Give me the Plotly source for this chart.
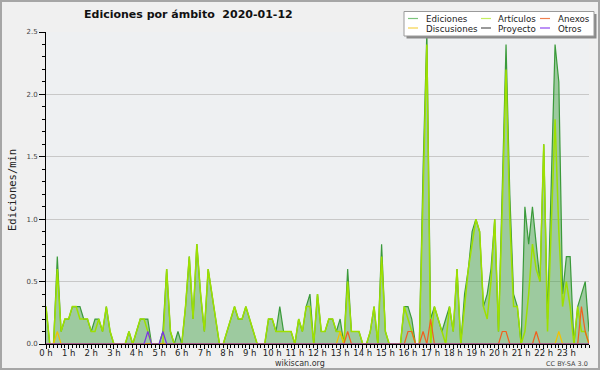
import plotly.graph_objects as go

# ---------------- data (edits per minute, 10-minute buckets, 2020-01-12) -------------
minutes = list(range(0, 1441, 10))          # 00:00 ... 24:00
hour_ticks = [0, 1, 2, 3, 4, 5, 6, 7, 8, 9, 10, 11, 12, 13, 14, 15, 16, 17, 18, 19, 20, 21, 22, 23]
hour_labels = ["0 h", "1 h", "2 h", "3 h", "4 h", "5 h", "6 h", "7 h", "8 h", "9 h", "10 h", "11 h",
               "12 h", "13 h", "14 h", "15 h", "16 h", "17 h", "18 h", "19 h", "20 h", "21 h", "22 h", "23 h"]

ediciones = [
    0.3, 0, 0, 0.7, 0.1, 0.2, 0.2, 0.3, 0.3, 0.3, 0.2, 0.2,
    0.1, 0.2, 0.2, 0.1, 0.3, 0.1, 0, 0, 0, 0, 0.1, 0,
    0.1, 0.2, 0.2, 0.2, 0, 0, 0, 0.1, 0.6, 0.1, 0, 0.1,
    0, 0.3, 0.7, 0.2, 0.8, 0.4, 0.1, 0.6, 0.4, 0.2, 0, 0,
    0.1, 0.2, 0.3, 0.2, 0.2, 0.3, 0.2, 0.1, 0, 0, 0, 0.2,
    0.2, 0.1, 0.3, 0.1, 0.1, 0.1, 0, 0.2, 0.1, 0.3, 0.4, 0,
    0.4, 0.1, 0.1, 0.2, 0.2, 0.1, 0.2, 0, 0.6, 0.1, 0.1, 0.1,
    0, 0, 0.1, 0.3, 0, 0.8, 0.1, 0, 0, 0, 0, 0.3,
    0.3, 0.2, 0, 0, 1.4, 2.5, 0.2, 0.3, 0.2, 0.1, 0.2, 0.3,
    0.1, 0.6, 0, 0.4, 0.6, 0.9, 1.0, 0.9, 0.3, 0.4, 0.6, 1.0,
    0.1, 1.2, 2.4, 1.2, 0.4, 0.3, 0, 1.1, 0.8, 1.1, 0.8, 0.5,
    1.6, 0.2, 1.3, 2.4, 2.1, 0.4, 0.7, 0.7, 0, 0.3, 0.4, 0.5,
    0.1,
]
articulos = [
    0.3, 0, 0, 0.6, 0.1, 0.2, 0.2, 0.3, 0.3, 0.2, 0.2, 0.2,
    0.1, 0.1, 0.2, 0.1, 0.3, 0.1, 0, 0, 0, 0, 0.1, 0,
    0.1, 0.2, 0.2, 0.1, 0, 0, 0, 0, 0.6, 0.1, 0, 0,
    0, 0.3, 0.7, 0.2, 0.8, 0.4, 0.1, 0.6, 0.4, 0.2, 0, 0,
    0.1, 0.2, 0.3, 0.2, 0.2, 0.3, 0.2, 0.1, 0, 0, 0, 0.2,
    0.2, 0.1, 0.1, 0.1, 0.1, 0.1, 0, 0.2, 0.1, 0.3, 0.3, 0,
    0.4, 0.1, 0.1, 0.2, 0.2, 0.1, 0.1, 0, 0.5, 0.1, 0.1, 0.1,
    0, 0, 0.1, 0.3, 0, 0.7, 0.1, 0, 0, 0, 0, 0.3,
    0.2, 0.1, 0, 0, 1.3, 2.4, 0, 0.3, 0.2, 0.1, 0, 0.3,
    0.1, 0.6, 0, 0.3, 0.6, 0.8, 1.0, 0.9, 0.3, 0.2, 0.5, 1.0,
    0.1, 1.1, 2.2, 1.0, 0.3, 0.3, 0, 0.1, 0.4, 0.8, 0.6, 0.5,
    1.6, 0.1, 1.0, 1.8, 0.9, 0.3, 0.5, 0.3, 0, 0.3, 0.1, 0.1,
    0,
]
discusiones = [
    0, 0, 0, 0.1, 0, 0, 0, 0, 0, 0, 0, 0,
    0, 0, 0, 0, 0, 0, 0, 0, 0, 0, 0, 0,
    0, 0, 0, 0, 0, 0, 0, 0, 0, 0, 0, 0,
    0, 0, 0, 0, 0, 0, 0, 0, 0, 0, 0, 0,
    0, 0, 0, 0, 0, 0, 0, 0, 0, 0, 0, 0,
    0, 0, 0, 0, 0, 0, 0, 0, 0, 0, 0, 0,
    0, 0, 0, 0, 0, 0, 0.1, 0, 0, 0, 0, 0,
    0, 0, 0, 0, 0, 0, 0, 0, 0, 0, 0, 0,
    0, 0, 0, 0, 0, 0, 0, 0, 0, 0, 0, 0,
    0, 0, 0, 0, 0, 0, 0, 0, 0, 0, 0, 0,
    0, 0, 0, 0, 0, 0, 0, 0, 0, 0, 0, 0,
    0, 0, 0, 0, 0.1, 0, 0, 0, 0, 0, 0, 0,
    0,
]
anexos = [
    0, 0, 0, 0, 0, 0, 0, 0, 0, 0, 0, 0,
    0, 0, 0, 0, 0, 0, 0, 0, 0, 0, 0, 0,
    0, 0, 0, 0, 0, 0, 0, 0, 0, 0, 0, 0,
    0, 0, 0, 0, 0, 0, 0, 0, 0, 0, 0, 0,
    0, 0, 0, 0, 0, 0, 0, 0, 0, 0, 0, 0,
    0, 0, 0, 0, 0, 0, 0, 0, 0, 0, 0, 0,
    0, 0, 0, 0, 0, 0, 0, 0, 0.1, 0, 0, 0,
    0, 0, 0, 0, 0, 0, 0, 0, 0, 0, 0, 0,
    0.1, 0.1, 0, 0, 0.1, 0, 0.2, 0, 0, 0, 0, 0,
    0, 0, 0, 0, 0, 0, 0, 0, 0, 0, 0, 0,
    0, 0.1, 0.1, 0, 0, 0, 0, 0, 0, 0, 0.1, 0,
    0, 0, 0, 0, 0, 0, 0, 0, 0, 0, 0.3, 0.1,
    0,
]
proyecto = [
    0, 0, 0, 0, 0, 0, 0, 0, 0, 0, 0, 0,
    0, 0, 0, 0, 0, 0, 0, 0, 0, 0, 0, 0,
    0, 0, 0, 0, 0, 0, 0, 0, 0, 0, 0, 0,
    0, 0, 0, 0, 0, 0, 0, 0, 0, 0, 0, 0,
    0, 0, 0, 0, 0, 0, 0, 0, 0, 0, 0, 0,
    0, 0, 0, 0, 0, 0, 0, 0, 0, 0, 0, 0,
    0, 0, 0, 0, 0, 0, 0, 0, 0, 0, 0, 0,
    0, 0, 0, 0, 0, 0, 0, 0, 0, 0, 0, 0,
    0, 0, 0, 0, 0, 0, 0, 0, 0, 0, 0, 0,
    0, 0, 0, 0, 0, 0, 0, 0, 0, 0, 0, 0,
    0, 0, 0, 0, 0, 0, 0, 0, 0, 0, 0, 0,
    0, 0, 0, 0, 0, 0, 0, 0, 0, 0, 0, 0,
    0,
]
otros = [
    0, 0, 0, 0, 0, 0, 0, 0, 0, 0, 0, 0,
    0, 0, 0, 0, 0, 0, 0, 0, 0, 0, 0, 0,
    0, 0, 0, 0.1, 0, 0, 0, 0.1, 0, 0, 0, 0,
    0, 0, 0, 0, 0, 0, 0, 0, 0, 0, 0, 0,
    0, 0, 0, 0, 0, 0, 0, 0, 0, 0, 0, 0,
    0, 0, 0, 0, 0, 0, 0, 0, 0, 0, 0, 0,
    0, 0, 0, 0, 0, 0, 0, 0, 0, 0, 0, 0,
    0, 0, 0, 0, 0, 0, 0, 0, 0, 0, 0, 0,
    0, 0, 0, 0, 0, 0, 0, 0, 0, 0, 0, 0,
    0, 0, 0, 0, 0, 0, 0, 0, 0, 0, 0, 0,
    0, 0, 0, 0, 0, 0, 0, 0, 0, 0, 0, 0,
    0, 0, 0, 0, 0, 0, 0, 0, 0, 0, 0, 0,
    0,
]

series_names = ["Ediciones", "Artículos", "Anexos", "Discusiones", "Proyecto", "Otros"]

# ---------------- styling -------------
W, H = 600, 370
L, R, T, B = 46, 11, 32, 26
PW, PH = W - L - R, H - T - B


def px(x):
    return (x - L) / PW


def py(y):
    return (H - B - y) / PH


hours = [m / 60 for m in minutes]

colors = {
    "Ediciones": "#3a9a3a",
    "Artículos": "#9ee000",
    "Anexos": "#f0601e",
    "Discusiones": "#f2c200",
    "Proyecto": "#505050",
    "Otros": "#7a34e6",
}

fig = go.Figure()
fig.add_trace(go.Scatter(x=hours, y=ediciones, name="Ediciones", mode="lines",
                         line=dict(color=colors["Ediciones"], width=1.2),
                         fill="tozeroy", fillcolor="rgba(70,160,70,0.48)"))
fig.add_trace(go.Scatter(x=hours, y=articulos, name="Artículos", mode="lines",
                         line=dict(color=colors["Artículos"], width=1.5)))
fig.add_trace(go.Scatter(x=hours, y=proyecto, name="Proyecto", mode="lines",
                         line=dict(color=colors["Proyecto"], width=1.2)))
fig.add_trace(go.Scatter(x=hours, y=discusiones, name="Discusiones", mode="lines",
                         line=dict(color=colors["Discusiones"], width=1.2)))
fig.add_trace(go.Scatter(x=hours, y=anexos, name="Anexos", mode="lines",
                         line=dict(color=colors["Anexos"], width=1.2)))
fig.add_trace(go.Scatter(x=hours, y=otros, name="Otros", mode="lines",
                         line=dict(color=colors["Otros"], width=1.2)))

fig.update_layout(
    width=W, height=H,
    margin=dict(l=L, r=R, t=T, b=B),
    paper_bgcolor="#f0f0f0", plot_bgcolor="#eef0f2",
    font=dict(family="DejaVu Sans", color="#222"),
    showlegend=False,
    xaxis=dict(range=[0, 24], tickmode="array", tickvals=hour_ticks, ticktext=hour_labels,
               ticks="outside", ticklen=4, tickcolor="#000", tickwidth=1, ticklabelstandoff=-3,
               showline=True, linecolor="#000", linewidth=1, showgrid=False, zeroline=False,
               tickfont=dict(size=8.5, color="#222"),
               minor=dict(tickmode="linear", tick0=0, dtick=1 / 6, ticks="outside", ticklen=3,
                          tickcolor="#000", showgrid=False)),
    yaxis=dict(range=[0, 2.5], tick0=0, dtick=0.5, tickformat=".1f",
               ticks="outside", ticklen=6, tickcolor="#000",
               showline=True, linecolor="#000", linewidth=1,
               showgrid=True, gridcolor="#c8c8c8", gridwidth=1, zeroline=False,
               tickfont=dict(size=7, color="#444"),
               minor=dict(dtick=0.1, ticks="outside", ticklen=3, tickcolor="#000", showgrid=False)),
)

shapes = []
annotations = []

# outer border
shapes.append(dict(type="rect", xref="paper", yref="paper", x0=px(1), x1=px(599), y0=py(1), y1=py(369),
                   line=dict(color="#a6a6a6", width=2), fillcolor="rgba(0,0,0,0)", layer="above"))

# legend box with shadow
shapes.append(dict(type="rect", xref="paper", yref="paper", x0=px(406.5), x1=px(596.5), y0=py(14), y1=py(38.5),
                   line=dict(width=0), fillcolor="#8a8a8a", layer="above"))
shapes.append(dict(type="rect", xref="paper", yref="paper", x0=px(404), x1=px(594), y0=py(11.5), y1=py(36),
                   line=dict(color="#9a9a9a", width=1), fillcolor="#ffffff", layer="above"))

legend_layout = [
    ("Ediciones", 408, 424, 18.5, "#7cc47c"),
    ("Artículos", 481, 496, 18.5, "#c4ee60"),
    ("Anexos", 540, 556, 18.5, "#f08050"),
    ("Discusiones", 408, 424, 28, "#f5d24a"),
    ("Proyecto", 481, 496, 28, "#555555"),
    ("Otros", 540, 556, 28, "#9048f0"),
]
for name, lx, tx, ly, col in legend_layout:
    shapes.append(dict(type="line", xref="paper", yref="paper", x0=px(lx), x1=px(lx + 10),
                       y0=py(ly), y1=py(ly), line=dict(color=col, width=1.2), layer="above"))
    annotations.append(dict(text=name, xref="paper", yref="paper", x=px(tx), y=py(ly + 0.8),
                            xanchor="left", yanchor="middle", showarrow=False,
                            font=dict(family="DejaVu Sans", size=8.7, color="#222")))

# title
annotations.append(dict(text="<b>Ediciones por ámbito\u00a0 2020-01-12</b>", xref="paper", yref="paper",
                        x=px(188), y=py(15), xanchor="center", yanchor="middle", showarrow=False,
                        font=dict(family="DejaVu Sans", size=11, color="#111")))
# y-axis title
annotations.append(dict(text="Ediciones/min", xref="paper", yref="paper", x=px(12), y=py(190),
                        xanchor="center", yanchor="middle", textangle=-90, showarrow=False,
                        font=dict(family="DejaVu Sans Mono", size=10.5, color="#222")))
# footer
annotations.append(dict(text="wikiscan.org", xref="paper", yref="paper", x=px(300), y=py(363),
                        xanchor="center", yanchor="middle", showarrow=False,
                        font=dict(family="DejaVu Sans", size=8, color="#333")))
annotations.append(dict(text="CC BY-SA 3.0", xref="paper", yref="paper", x=px(590), y=py(363.5),
                        xanchor="right", yanchor="middle", showarrow=False,
                        font=dict(family="DejaVu Sans", size=6.5, color="#444")))

fig.update_layout(shapes=shapes, annotations=annotations)

fig.write_html("out.html", config={"displayModeBar": False},
               post_script="document.body.style.margin='0';document.body.style.overflow='hidden';")
